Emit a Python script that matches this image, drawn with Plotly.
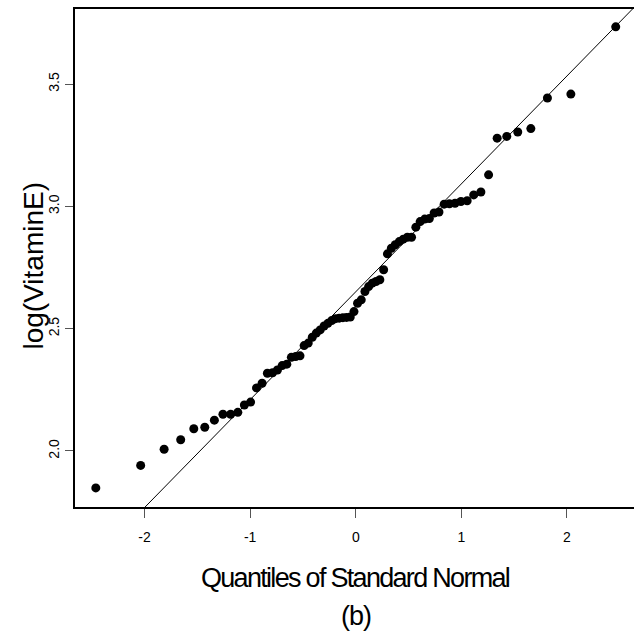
import plotly.graph_objects as go

# Theoretical quantiles of the standard normal (n = 72)
normal_quantiles = [
    -2.462, -2.037, -1.815, -1.658, -1.534, -1.430, -1.339, -1.258, -1.185, -1.117,
    -1.055, -0.996, -0.940, -0.887, -0.837, -0.788, -0.742, -0.697, -0.653, -0.610,
    -0.569, -0.528, -0.489, -0.450, -0.412, -0.374, -0.337, -0.300, -0.264, -0.228,
    -0.192, -0.157, -0.122, -0.087, -0.052, -0.017,
    0.017, 0.052, 0.087, 0.122, 0.157, 0.192, 0.228, 0.264, 0.300, 0.337,
    0.374, 0.412, 0.450, 0.489, 0.528, 0.569, 0.610, 0.653, 0.697, 0.742,
    0.788, 0.837, 0.887, 0.940, 0.996, 1.055, 1.117, 1.185, 1.258, 1.339,
    1.430, 1.534, 1.658, 1.815, 2.037, 2.462,
]

# Sorted log(VitaminE) values
log_vitamin_e = [
    1.849, 1.941, 2.007, 2.046, 2.091, 2.097, 2.126, 2.150, 2.150, 2.158,
    2.188, 2.200, 2.258, 2.277, 2.318, 2.320, 2.331, 2.349, 2.355, 2.383,
    2.386, 2.389, 2.431, 2.441, 2.465, 2.482, 2.495, 2.511, 2.522, 2.533,
    2.541, 2.543, 2.545, 2.546, 2.548, 2.570,
    2.604, 2.618, 2.652, 2.672, 2.686, 2.693, 2.700, 2.741, 2.806, 2.829,
    2.843, 2.856, 2.866, 2.874, 2.874, 2.915, 2.938, 2.948, 2.950, 2.973,
    2.977, 3.009, 3.011, 3.013, 3.020, 3.023, 3.047, 3.059, 3.129, 3.279,
    3.286, 3.304, 3.318, 3.443, 3.459, 3.734,
]

x_ticks = [-2, -1, 0, 1, 2]
x_tick_labels = ["-2", "-1", "0", "1", "2"]
y_ticks = [2.0, 2.5, 3.0, 3.5]
y_tick_labels = ["2.0", "2.5", "3.0", "3.5"]

x_title = "Quantiles of Standard Normal"
y_title = "log(VitaminE)"
caption = "(b)"

X_RANGE = [-2.659, 2.635]
Y_RANGE = [1.771, 3.807]

# qqline: line through the first and third quartiles
def quantile7(vals, p):
    s = sorted(vals)
    h = (len(s) - 1) * p
    lo = int(h)
    hi = min(lo + 1, len(s) - 1)
    return s[lo] + (h - lo) * (s[hi] - s[lo])

q1, q3 = quantile7(log_vitamin_e, 0.25), quantile7(log_vitamin_e, 0.75)
z1, z3 = -0.6745, 0.6745
slope = (q3 - q1) / (z3 - z1)
intercept = q1 - slope * z1
line_x = [X_RANGE[0], X_RANGE[1]]
line_y = [intercept + slope * v for v in line_x]

FONT = "Liberation Sans, Arial, Helvetica, sans-serif"

def tight(text, spacing):
    return f'<span style="letter-spacing:{spacing}px">{text}</span>'

fig = go.Figure()
fig.add_trace(go.Scatter(
    x=line_x, y=line_y, mode="lines",
    line=dict(color="black", width=1), hoverinfo="skip", showlegend=False,
))
fig.add_trace(go.Scatter(
    x=normal_quantiles, y=log_vitamin_e, mode="markers",
    marker=dict(color="black", size=9, line=dict(width=0)),
    showlegend=False,
))

fig.update_layout(
    width=634, height=643,
    margin=dict(l=75, r=0, t=9, b=136),
    paper_bgcolor="white", plot_bgcolor="white",
    font=dict(family=FONT, color="black"),
    xaxis=dict(
        range=X_RANGE, showgrid=False, zeroline=False,
        showline=True, mirror=True, linecolor="black", linewidth=2,
        tickmode="array", tickvals=x_ticks, ticktext=x_tick_labels,
        ticks="outside", ticklen=9, tickwidth=1, tickcolor="#555555",
        tickfont=dict(size=14, family=FONT), ticklabelstandoff=7,
    ),
    yaxis=dict(
        range=Y_RANGE, showgrid=False, zeroline=False,
        showline=True, mirror=False, linecolor="black", linewidth=2,
        tickmode="array", tickvals=y_ticks, ticktext=y_tick_labels,
        ticks="outside", ticklen=8, tickwidth=1, tickcolor="#555555",
        tickangle=-90, tickfont=dict(size=14, family=FONT), ticklabelstandoff=0,
    ),
    annotations=[
        dict(text=tight(x_title, -1.7), xref="x", yref="paper", x=0, y=-0.1426,
             xanchor="center", yanchor="middle", showarrow=False,
             font=dict(size=27, family=FONT)),
        dict(text=tight(caption, -1), xref="x", yref="paper", x=0, y=-0.2189,
             xanchor="center", yanchor="middle", showarrow=False,
             font=dict(size=27, family=FONT)),
        dict(text=y_title, xref="paper", yref="paper", x=-0.075, y=0.485,
             xanchor="center", yanchor="middle", showarrow=False, textangle=-90,
             font=dict(size=28, family=FONT)),
    ],
)

fig.write_html("out.html", config={"displayModeBar": False},
               post_script="document.body.style.margin='0px';")
